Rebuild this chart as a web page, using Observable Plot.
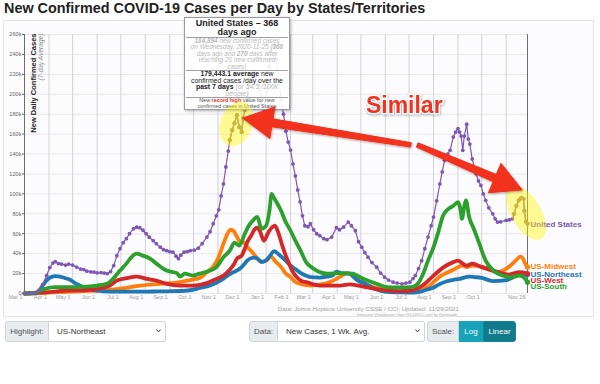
<!DOCTYPE html>
<html><head><meta charset="utf-8">
<script src="https://cdn.jsdelivr.net/npm/d3@7"></script>
<script src="https://cdn.jsdelivr.net/npm/@observablehq/plot@0.6"></script>
<style>
body{margin:0;width:600px;height:384px;overflow:hidden;background:#fff;font-family:"Liberation Sans",Arial,sans-serif;position:relative}
#title{position:absolute;left:4px;top:1.2px;font-size:14.4px;line-height:14px;font-weight:bold;color:#222;white-space:nowrap}
#panel{position:absolute;left:3px;top:20px;width:591px;height:297px;border:1px solid #e3e3e3;background:#fcfcfe;box-sizing:border-box}
#chart{position:absolute;left:0;top:20px}
#overlay{position:absolute;left:0;top:20px;pointer-events:none}
.cap1{position:absolute;right:141px;top:305px;font-size:6.2px;color:#a0a0a0;white-space:nowrap}
.cap2{position:absolute;right:141px;top:312.5px;font-size:3.6px;color:#aaa;white-space:nowrap}
#tip{position:absolute;left:184px;top:17px;width:106px;height:93px;box-sizing:border-box;border:1px solid #9a9a9a;background:rgba(255,255,255,0.9);box-shadow:1px 1px 3px rgba(0,0,0,.3);text-align:center;color:#222;overflow:hidden}
#tip .t1{font-size:9px;line-height:9px;font-weight:bold;padding-top:0.5px}
#tip .t2{font-size:6.4px;line-height:6.5px;color:#b8b8b8;font-style:italic;border-top:1px solid #a0a0a0;margin:0 1px}
#tip .t3{font-size:6.9px;line-height:6.6px;border-top:1px solid #a0a0a0;margin:0 1px}
#tip .t3 i{color:#b8b8b8}
#tip .t4{font-size:5.4px;line-height:5.8px;color:#555;border-top:1px solid #a0a0a0;margin:0 1px}
.box{position:absolute;top:321px;height:21px;box-sizing:border-box;font-size:8px;line-height:19px;white-space:nowrap}
.lab{background:#e9ecef;border:1px solid #ced4da;border-radius:3px 0 0 3px;color:#495057;text-align:center}
.sel{background:#fff;border:1px solid #ced4da;border-left:none;border-radius:0 3px 3px 0;color:#333;padding-left:8px}
.sel svg{position:absolute;right:4px;top:7px}
.btn{color:#fff;text-align:center;border:1px solid #138496}
</style></head>
<body>
<div id="title">New Confirmed COVID-19 Cases per Day by States/Territories</div>
<div id="panel"></div>
<div id="chart"></div>
<div class="cap1">Data: Johns Hopkins University CSSE / CCI; Updated: 11/29/2021</div>
<div class="cap2">Interactive Visualization: https://91-DIVOC.com/ by @profwade_</div>
<div id="tip">
 <div class="t1">United States – 368<br>days ago</div>
 <div class="t2"><b>184,894</b> new confirmed cases<br>on Wednesday, 2020-11-25 (<b>368</b><br>days ago and <b>270</b> days after<br>reaching 20 new confirmed<br>cases)</div>
 <div class="t3"><b>179,443.1 average</b> new<br>confirmed cases /day over the<br><b>past 7 days</b> <i>(or 54.5 /100k<br>people)</i></div>
 <div class="t4">New <span style="color:#e8302a;font-weight:bold">record high</span> value for new<br>confirmed cases in United States</div>
</div>
<div class="box lab" style="left:5px;width:44px">Highlight:</div>
<div class="box sel" style="left:49px;width:117px">US-Northeast<svg width="5" height="4"><polyline points="0.5,0.5 2.5,3 4.5,0.5" fill="none" stroke="#444" stroke-width="1"/></svg></div>
<div class="box lab" style="left:249px;width:29px">Data:</div>
<div class="box sel" style="left:278px;width:147px">New Cases, 1 Wk. Avg.<svg width="5" height="4"><polyline points="0.5,0.5 2.5,3 4.5,0.5" fill="none" stroke="#444" stroke-width="1"/></svg></div>
<div class="box lab" style="left:427px;width:32px;border-radius:3px 0 0 3px">Scale:</div>
<div class="box btn" style="left:459px;width:24px;background:#17a2b8;border-color:#17a2b8">Log</div>
<div class="box btn" style="left:483px;width:33px;background:#117a8b;border-radius:0 3px 3px 0">Linear</div>
<svg id="overlay" width="600" height="298"></svg>
<script>
// ---------- data (7-day average new confirmed cases per day) ----------
const unitedStates = [
["2020-03-01",0],["2020-03-08",80],["2020-03-14",600],["2020-03-19",3000],["2020-03-24",9000],["2020-03-29",18000],["2020-04-02",26000],["2020-04-06",30500],["2020-04-09",32000],["2020-04-13",30000],["2020-04-17",29500],["2020-04-22",28500],["2020-04-26",29500],["2020-05-01",28500],["2020-05-06",26500],["2020-05-11",24500],["2020-05-15",24000],["2020-05-19",22400],["2020-05-24",21800],["2020-05-28",21500],["2020-06-01",20800],["2020-06-06",21000],["2020-06-10",20500],["2020-06-14",20000],["2020-06-18",22000],["2020-06-22",28000],["2020-06-26",38000],["2020-06-30",45000],["2020-07-04",51000],["2020-07-08",55000],["2020-07-12",60000],["2020-07-17",65000],["2020-07-21",66500],["2020-07-25",66000],["2020-07-29",63500],["2020-08-02",60000],["2020-08-06",56500],["2020-08-11",53000],["2020-08-15",50000],["2020-08-20",46500],["2020-08-24",44000],["2020-08-28",43000],["2020-09-01",42000],["2020-09-05",41500],["2020-09-09",37500],["2020-09-12",35000],["2020-09-15",38500],["2020-09-19",41500],["2020-09-23",42000],["2020-09-27",43000],["2020-10-02",43500],["2020-10-07",45500],["2020-10-12",50000],["2020-10-18",56600],["2020-10-22",62000],["2020-10-26",70000],["2020-10-30",78000],["2020-11-02",84000],["2020-11-05",98000],["2020-11-08",110000],["2020-11-11",127000],["2020-11-14",143000],["2020-11-16",154000],["2020-11-19",164000],["2020-11-22",171000],["2020-11-25",179000],["2020-11-28",167000],["2020-12-01",162000],["2020-12-03",176000],["2020-12-05",184000],["2020-12-08",197000],["2020-12-11",210000],["2020-12-14",214000],["2020-12-17",222000],["2020-12-20",218000],["2020-12-23",212000],["2020-12-26",190000],["2020-12-29",181000],["2021-01-02",205000],["2021-01-05",228000],["2021-01-08",248000],["2021-01-11",250000],["2021-01-14",235000],["2021-01-17",213000],["2021-01-20",195000],["2021-01-23",180000],["2021-01-26",163000],["2021-01-29",152000],["2021-02-01",144000],["2021-02-04",130000],["2021-02-07",118000],["2021-02-10",104000],["2021-02-13",92000],["2021-02-16",78000],["2021-02-19",68000],["2021-02-23",67000],["2021-02-26",70000],["2021-03-02",64000],["2021-03-06",60000],["2021-03-10",58000],["2021-03-15",55000],["2021-03-19",54000],["2021-03-25",56600],["2021-03-31",66000],["2021-04-04",64000],["2021-04-09",66600],["2021-04-15",71700],["2021-04-19",68000],["2021-04-24",63000],["2021-04-28",52000],["2021-05-02",46500],["2021-05-06",41000],["2021-05-10",36500],["2021-05-15",31000],["2021-05-21",26400],["2021-05-26",20500],["2021-05-31",16400],["2021-06-05",13500],["2021-06-11",11400],["2021-06-16",10500],["2021-06-22",9700],["2021-06-27",10500],["2021-07-02",11400],["2021-07-06",15000],["2021-07-09",18000],["2021-07-13",25000],["2021-07-17",33000],["2021-07-21",45000],["2021-07-25",56600],["2021-07-29",68000],["2021-08-01",76700],["2021-08-05",93000],["2021-08-09",110000],["2021-08-12",122000],["2021-08-15",133700],["2021-08-19",140000],["2021-08-22",143700],["2021-08-26",157000],["2021-08-29",162000],["2021-09-01",165500],["2021-09-03",162000],["2021-09-05",158000],["2021-09-07",143700],["2021-09-09",158000],["2021-09-12",170000],["2021-09-14",155000],["2021-09-16",150000],["2021-09-19",135000],["2021-09-24",120000],["2021-09-27",113000],["2021-09-30",108500],["2021-10-03",100000],["2021-10-06",93500],["2021-10-10",86000],["2021-10-15",80000],["2021-10-18",75000],["2021-10-21",71700],["2021-10-25",72000],["2021-11-01",73400],["2021-11-05",74000],["2021-11-09",75000],["2021-11-11",80000],["2021-11-14",88000],["2021-11-17",93500],["2021-11-20",96000],["2021-11-23",95000],["2021-11-24",83000],["2021-11-26",72000],["2021-11-28",70000]
];
const usMidwest = [
["2020-03-01",0],["2020-03-20",400],["2020-04-01",1000],["2020-04-20",1500],["2020-05-15",2500],["2020-06-05",3000],["2020-07-01",5000],["2020-07-26",8000],["2020-08-20",9700],["2020-09-14",11400],["2020-09-30",14000],["2020-10-09",15500],["2020-10-18",21400],["2020-10-26",27000],["2020-11-01",35000],["2020-11-08",50000],["2020-11-13",60000],["2020-11-17",64000],["2020-11-21",62500],["2020-11-25",57000],["2020-11-29",52000],["2020-12-04",51000],["2020-12-09",46000],["2020-12-15",41000],["2020-12-20",36000],["2020-12-25",32000],["2021-01-01",33000],["2021-01-07",37000],["2021-01-13",32000],["2021-01-20",26500],["2021-01-26",20000],["2021-02-01",16500],["2021-02-07",11500],["2021-02-14",9500],["2021-02-26",8000],["2021-03-10",9000],["2021-03-19",10400],["2021-04-04",16400],["2021-04-14",20400],["2021-04-25",16000],["2021-05-07",9700],["2021-05-25",4700],["2021-06-19",1700],["2021-07-04",1800],["2021-07-24",6400],["2021-08-09",17000],["2021-08-26",23800],["2021-09-07",28000],["2021-09-12",26500],["2021-09-19",28000],["2021-10-06",26000],["2021-10-22",21500],["2021-11-04",26500],["2021-11-13",33000],["2021-11-19",37000],["2021-11-22",35500],["2021-11-25",30000],["2021-11-28",26500]
];
const usNortheast = [
["2020-03-01",0],["2020-03-14",200],["2020-03-19",2000],["2020-03-24",8000],["2020-03-30",14000],["2020-04-04",16500],["2020-04-09",17500],["2020-04-15",17000],["2020-04-21",15500],["2020-04-27",14000],["2020-05-03",11000],["2020-05-10",8000],["2020-05-17",5500],["2020-05-23",4000],["2020-06-01",2800],["2020-06-10",2200],["2020-06-25",1800],["2020-07-15",1800],["2020-08-10",2000],["2020-09-05",2300],["2020-09-24",3000],["2020-10-09",5500],["2020-10-22",8000],["2020-11-04",13000],["2020-11-16",19500],["2020-11-22",22000],["2020-11-29",25000],["2020-12-04",29000],["2020-12-08",33000],["2020-12-16",36000],["2020-12-21",35000],["2020-12-27",31500],["2021-01-02",34000],["2021-01-07",39000],["2021-01-11",42500],["2021-01-16",40000],["2021-01-21",36500],["2021-01-27",32000],["2021-02-01",28000],["2021-02-07",24500],["2021-02-13",21000],["2021-02-20",18000],["2021-02-26",16400],["2021-03-10",16000],["2021-03-20",17000],["2021-03-26",18000],["2021-03-31",22000],["2021-04-06",20500],["2021-04-17",20000],["2021-04-22",16500],["2021-04-27",13000],["2021-05-07",9700],["2021-05-14",6500],["2021-05-21",4000],["2021-05-31",1800],["2021-06-15",1100],["2021-07-01",1000],["2021-07-13",1500],["2021-07-22",3500],["2021-08-01",6000],["2021-08-09",9500],["2021-08-17",12000],["2021-08-25",13500],["2021-09-03",14700],["2021-09-15",17000],["2021-09-22",16500],["2021-10-01",15700],["2021-10-15",12500],["2021-11-01",13500],["2021-11-08",15500],["2021-11-13",18000],["2021-11-21",19000],["2021-11-28",19000]
];
const usWest = [
["2020-03-01",0],["2020-03-20",800],["2020-04-01",1300],["2020-04-23",3000],["2020-05-19",3500],["2020-06-01",4700],["2020-06-17",8000],["2020-06-26",13000],["2020-07-08",15400],["2020-07-21",17000],["2020-08-03",14700],["2020-08-15",13000],["2020-08-28",9700],["2020-09-14",8000],["2020-10-01",8000],["2020-10-18",10400],["2020-10-30",14700],["2020-11-08",18000],["2020-11-15",23000],["2020-11-21",29000],["2020-11-25",35000],["2020-12-01",38000],["2020-12-05",45000],["2020-12-09",53000],["2020-12-13",58000],["2020-12-17",64000],["2020-12-21",66000],["2020-12-25",61000],["2020-12-29",53000],["2021-01-04",61600],["2021-01-08",66000],["2021-01-12",68000],["2021-01-16",62000],["2021-01-20",52000],["2021-01-24",42000],["2021-01-29",32000],["2021-02-03",23000],["2021-02-08",17000],["2021-02-14",13000],["2021-02-21",11400],["2021-03-10",8000],["2021-04-05",8000],["2021-04-17",9200],["2021-05-07",6400],["2021-05-28",3700],["2021-06-19",2400],["2021-07-04",3000],["2021-07-18",8000],["2021-08-01",18000],["2021-08-14",26500],["2021-08-26",31500],["2021-09-01",33000],["2021-09-07",30000],["2021-09-12",28000],["2021-09-19",30000],["2021-10-01",26500],["2021-10-22",21400],["2021-11-04",19000],["2021-11-18",21400],["2021-11-28",20000]
];
const usSouth = [
["2020-03-01",0],["2020-03-15",800],["2020-03-24",4000],["2020-04-08",6400],["2020-04-23",6400],["2020-05-19",7000],["2020-06-01",8000],["2020-06-13",9700],["2020-06-21",14700],["2020-06-30",23000],["2020-07-08",30000],["2020-07-15",37000],["2020-07-21",40000],["2020-07-29",38000],["2020-08-07",35000],["2020-08-15",30000],["2020-08-28",23000],["2020-09-10",20400],["2020-09-14",17000],["2020-09-20",20000],["2020-09-30",18000],["2020-10-09",20000],["2020-10-22",23000],["2020-10-30",26500],["2020-11-08",36500],["2020-11-16",43000],["2020-11-22",51000],["2020-11-28",48000],["2020-12-05",60000],["2020-12-10",68000],["2020-12-16",74000],["2020-12-21",77000],["2020-12-26",65000],["2021-01-01",68000],["2021-01-05",82000],["2021-01-08",100000],["2021-01-11",96000],["2021-01-14",92000],["2021-01-20",83000],["2021-01-25",73000],["2021-02-01",63000],["2021-02-07",53000],["2021-02-13",44000],["2021-02-21",31000],["2021-02-28",26000],["2021-03-08",22000],["2021-03-19",20000],["2021-04-05",20500],["2021-04-20",20000],["2021-05-04",14700],["2021-05-21",9700],["2021-06-03",6400],["2021-06-19",6000],["2021-07-04",6400],["2021-07-12",9700],["2021-07-19",20000],["2021-07-25",33000],["2021-08-01",46500],["2021-08-07",61600],["2021-08-13",78000],["2021-08-20",85000],["2021-08-26",88000],["2021-09-01",91700],["2021-09-04",85000],["2021-09-06",75000],["2021-09-09",88000],["2021-09-11",93500],["2021-09-15",77000],["2021-09-21",65000],["2021-09-28",50000],["2021-10-06",33000],["2021-10-16",23000],["2021-10-27",18000],["2021-11-08",16400],["2021-11-17",18000],["2021-11-23",16500],["2021-11-28",11400]
];
// highlighted ("similar") windows of the United States series
const similarWindows = [["2020-11-16","2020-12-03"],["2021-11-11","2021-11-28"]];
// end-of-line labels and their anchor values
const endLabels = ["United States","US-Midwest","US-Northeast","US-West","US-South"];
const endLabelValues = [69000, 27000, 19000, 13400, 7300];
const yTickValues = [0,20000,40000,60000,80000,100000,120000,140000,160000,180000,200000,220000,240000,260000];
// annotations (data coordinates)
const arrowFrom = [["2021-07-04",148700],["2021-07-12",148700]];
const arrowTo   = [["2020-12-03",175600],["2021-11-22",103500]];
const ellipseAt = [["2020-11-25",169800],["2021-11-27",80400]];
const similarLabelAt = ["2021-05-08",180900];

// ---------- build ----------
const parse = d3.utcParse("%Y-%m-%d");
const C = {us:"#7e57b4", mw:"#ff7f0e", ne:"#1f77b4", we:"#d62728", so:"#2ca02c", brown:"#a88a62"};
const rows = arr => arr.map(([d,v]) => ({date: parse(d), value: v}));
const US = rows(unitedStates), MW = rows(usMidwest), NE = rows(usNortheast), WE = rows(usWest), SO = rows(usSouth);
const start = parse("2020-03-01"), end = parse("2021-11-28");
const monthTicks = d3.utcMonths(start, d3.utcDay.offset(end, 1));
const labelTicks = monthTicks.filter(d => !(d.getUTCFullYear() === 2021 && d.getUTCMonth() === 10)).concat([end]);
const brownSegs = similarWindows.map(([a,b]) => US.filter(d => d.date >= parse(a) && d.date <= parse(b)));
const labelColors = [C.us, C.mw, C.ne, C.we, C.so];
const labelRows = endLabels.map((t,i) => ({date: end, value: endLabelValues[i], text: t, color: labelColors[i]}));
const lastPts = [MW, NE, WE, SO].map((s,i) => ({...s[s.length-1], color: [C.mw,C.ne,C.we,C.so][i]}));

const font = "Liberation Sans, Arial, sans-serif";
const plot = Plot.plot({
  width: 600, height: 298,
  marginLeft: 24, marginRight: 73, marginTop: 14, marginBottom: 25,
  style: {background: "transparent", fontFamily: font},
  x: {type: "utc", domain: [start, end]},
  y: {domain: [0, 260000]},
  marks: [
    Plot.gridY(yTickValues, {stroke: "#e9e7ef", strokeOpacity: 1}),
    Plot.gridX(monthTicks, {stroke: "#d2d2d2", strokeOpacity: 1}),
    Plot.ruleX([start, end], {stroke: "#6d6d6d", strokeWidth: 1}),
    Plot.axisX(labelTicks, {tickFormat: d3.utcFormat("%b %-d"), tickSize: 0, tickPadding: 2, textAnchor: "end", dx: -2, fontSize: 5.5, color: "#9a9a9a", label: null}),
    Plot.axisY(yTickValues, {tickFormat: d => d === 0 ? "0" : (d/1000) + "k", tickSize: 2, tickPadding: 1, fontSize: 5.6, color: "#666", label: null}),
    Plot.text(["New Daily Confirmed Cases"], {frameAnchor: "top-left", text: d => d, rotate: -90, textAnchor: "end", dx: 6.5, dy: -1, fontSize: 7.5, fontWeight: "bold", fill: "#222"}),
    Plot.text(["(7-day Average)"], {frameAnchor: "top-left", text: d => d, rotate: -90, textAnchor: "end", dx: 13.5, dy: -1, fontSize: 6.6, fontStyle: "italic", fill: "#8a8a8a"}),
    Plot.line(MW, {x: "date", y: "value", stroke: C.mw, strokeWidth: 3.8, strokeLinejoin: "round", curve: "monotone-x"}),
    Plot.line(NE, {x: "date", y: "value", stroke: C.ne, strokeWidth: 3.8, strokeLinejoin: "round", curve: "monotone-x"}),
    Plot.line(WE, {x: "date", y: "value", stroke: C.we, strokeWidth: 3.8, strokeLinejoin: "round", curve: "monotone-x"}),
    Plot.line(SO, {x: "date", y: "value", stroke: C.so, strokeWidth: 3.8, strokeLinejoin: "round", curve: "monotone-x"}),
    Plot.dot(lastPts, {x: "date", y: "value", r: 2.6, fill: "color"}),
    Plot.line(US, {x: "date", y: "value", stroke: C.us, strokeWidth: 1.2}),
    Plot.dot(US, {x: "date", y: "value", r: 1.9, fill: C.us}),
    ...brownSegs.map(s => Plot.line(s, {x: "date", y: "value", stroke: C.brown, strokeWidth: 1.4})),
    ...brownSegs.map(s => Plot.dot(s, {x: "date", y: "value", r: 2.1, fill: C.brown})),
    Plot.text(labelRows, {x: "date", y: "value", text: "text", fill: "color", dx: 3, textAnchor: "start", fontSize: 8, fontWeight: "bold"})
  ]
});
document.getElementById("chart").append(plot);

// ---------- annotation overlay (positions through the plot's scales) ----------
const sx = plot.scale("x"), sy = plot.scale("y");
const P = ([d,v]) => [sx.apply(parse(d)), sy.apply(v)];
const ov = d3.select("#overlay");
const defs = ov.append("defs");
const f = defs.append("filter").attr("id","sh").attr("x","-20%").attr("y","-20%").attr("width","140%").attr("height","140%");
f.append("feDropShadow").attr("dx",0.6).attr("dy",1).attr("stdDeviation",0.9).attr("flood-color","#000").attr("flood-opacity",0.35);
const ellipseShape = [{rx:16, ry:23, rot:20},{rx:15, ry:30, rot:-30}];
ellipseAt.forEach((e,i) => {
  const [cx,cy] = P(e), s = ellipseShape[i];
  ov.append("ellipse").attr("cx",cx).attr("cy",cy).attr("rx",s.rx).attr("ry",s.ry)
    .attr("transform",`rotate(${s.rot},${cx},${cy})`).attr("fill","#fff500").attr("opacity",0.42);
});
arrowFrom.forEach((a,i) => {
  const [tx,ty] = P(a), [px,py] = P(arrowTo[i]);
  const L = Math.hypot(px-tx, py-ty), ux = (px-tx)/L, uy = (py-ty)/L, nx = -uy, ny = ux;
  const hl = 30, hw = 16, w0 = 2.2, w1 = 4;
  const bx = px - ux*hl, by = py - uy*hl;
  const pts = [[tx+nx*w0,ty+ny*w0],[bx+nx*w1,by+ny*w1],[bx+nx*hw,by+ny*hw],[px,py],[bx-nx*hw,by-ny*hw],[bx-nx*w1,by-ny*w1],[tx-nx*w0,ty-ny*w0]];
  ov.append("path").attr("d","M"+pts.map(p=>p.join(",")).join("L")+"Z").attr("fill","#f2301b").attr("stroke","#f2301b").attr("stroke-width",1).attr("stroke-linejoin","round").attr("filter","url(#sh)");
});
const [lx,ly] = P(similarLabelAt);
ov.append("text").attr("x",lx).attr("y",ly).text("Similar")
  .attr("font-family",font).attr("font-size",23).attr("font-weight","bold")
  .attr("fill","#f2301b").attr("stroke","#fff").attr("stroke-width",2.5).attr("paint-order","stroke").attr("filter","url(#sh)");
</script>
</body></html>
